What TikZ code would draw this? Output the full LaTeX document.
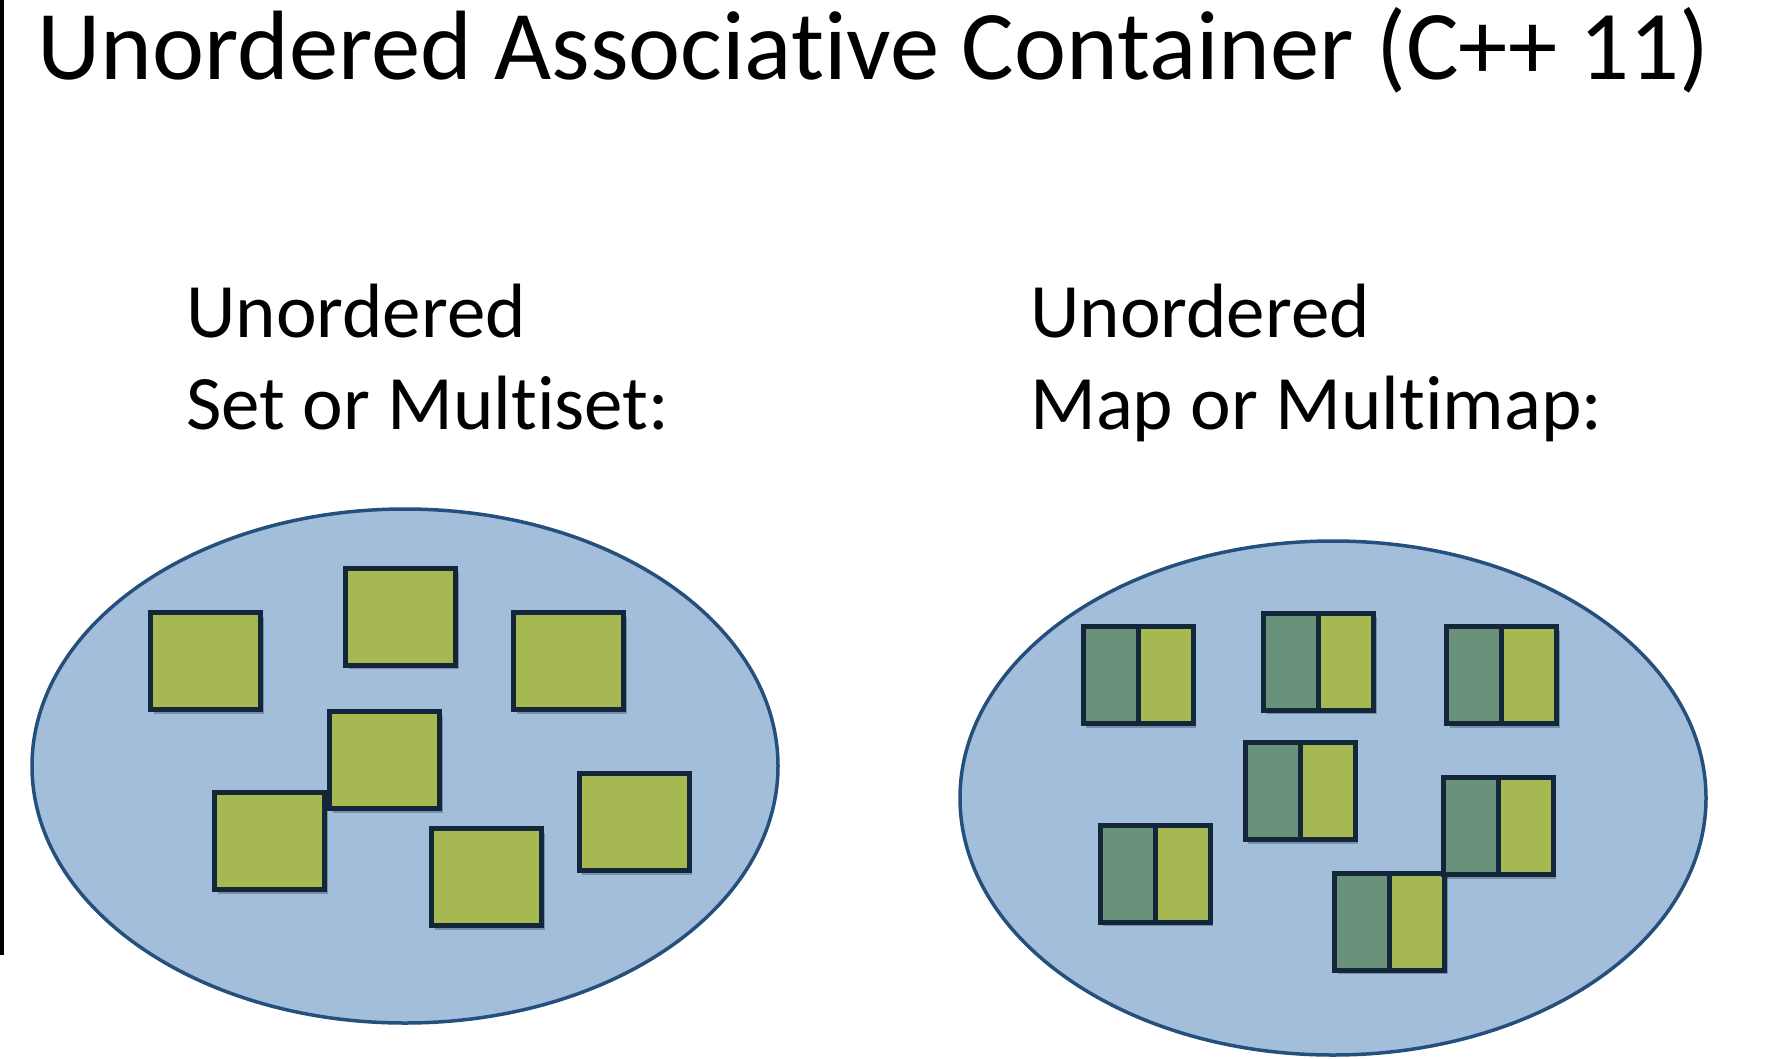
\documentclass[tikz,border=0pt]{standalone}
\usepackage{fontspec}
\setmainfont[Ligatures=NoCommon]{Carlito}
\usetikzlibrary{shapes.geometric,shadows}
\definecolor{bagfill}{HTML}{A3BEDB}
\definecolor{bagline}{HTML}{25507D}
\definecolor{boxline}{HTML}{13263A}
\definecolor{olive}{HTML}{A5B852}
\definecolor{keygreen}{HTML}{6A927A}
\tikzset{
  bag/.style={ellipse, draw=bagline, fill=bagfill, line width=3.5pt,
    minimum width=746pt, minimum height=514pt, inner sep=0pt},
  elem/.style={rectangle, draw=boxline, fill=olive, line width=5pt,
    minimum width=110pt, minimum height=97pt, inner sep=0pt,
    drop shadow={shadow xshift=3pt, shadow yshift=-4pt, opacity=0.3, fill=boxline}},
  pair/.style={elem,
    path picture={
      \fill[keygreen] (path picture bounding box.south west) rectangle (path picture bounding box.north);
      \draw[boxline, line width=5pt] (path picture bounding box.north) -- (path picture bounding box.south);
    }},
  title/.style={anchor=base west, inner sep=0pt, font=\fontsize{98.6}{118}\selectfont},
  label/.style={anchor=base west, inner sep=0pt, font=\fontsize{77}{92}\selectfont},
}
\begin{document}
\begin{tikzpicture}[x=1pt,y=-1pt]
\useasboundingbox[fill=white] (0,0) rectangle (1789,1058);
\fill[black] (0,0) rectangle (4,955);
% title
\node[title] (ttl) at (37,79) {Unordered Associative Container (C++ 11)};
% labels
\node[label] (l1a) at (186,337) {Unordered};
\node[label] (l1b) at (186,429) {Set or Multiset:};
\node[label] (l2a) at (1030,337) {Unordered};
\node[label] (l2b) at (1030,429) {Map or Multimap:};
% bags
\node[bag] (setbag) at (405,766) {};
\node[bag] (mapbag) at (1333,798) {};
% set elements
\node[elem] (s1) at (205.5,661) {};
\node[elem] (s2) at (400.5,616.5) {};
\node[elem] (s3) at (568.5,661) {};
\node[elem] (s5) at (269.5,841) {};
\node[elem] (s4) at (384.5,760) {};
\node[elem] (s6) at (486.5,877) {};
\node[elem] (s7) at (634,822) {};
% map elements
\node[pair] (m1) at (1138,675) {};
\node[pair] (m2) at (1318.5,661.5) {};
\node[pair] (m3) at (1501.5,675) {};
\node[pair] (m4) at (1300,791) {};
\node[pair] (m5) at (1155,873.5) {};
\node[pair] (m7) at (1389.5,921.5) {};
\node[pair] (m6) at (1498,826) {};
\end{tikzpicture}
\end{document}
